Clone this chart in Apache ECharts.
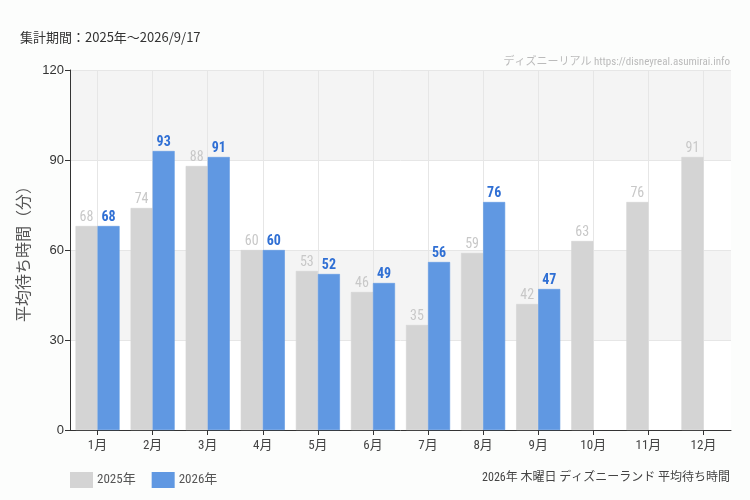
<!DOCTYPE html>
<html><head><meta charset="utf-8">
<script src="https://cdn.jsdelivr.net/npm/echarts@6/dist/echarts.min.js"></script>
<style>html,body{margin:0;padding:0;background:#fcfdfc;}#c{width:750px;height:500px;}</style>
</head><body><div id="c"></div>
<script>
const categories = ['1月','2月','3月','4月','5月','6月','7月','8月','9月','10月','11月','12月'];
const series2025 = [68,74,88,60,53,46,35,59,42,63,76,91];
const series2026 = [68,93,91,60,52,49,56,76,47,null,null,null];
const yTicks = {min:0, max:120, interval:30};
const seriesNames = ['2025年','2026年'];

const jp = '"Noto Sans CJK JP","Noto Sans",sans-serif';
const narrow = '"Roboto Condensed","DejaVu Sans Condensed","Liberation Sans Narrow",Roboto,"Noto Sans CJK JP",sans-serif';
const gray = '#d4d4d4', blue = '#6098e2';
const chart = echarts.init(document.getElementById('c'), null, {renderer:'canvas'});
chart.setOption({
  backgroundColor:'#fcfdfc',
  animation:false,
  title:[
    {text:'集計期間：2025年～2026/9/17', left:15, top:26, textStyle:{fontSize:13, fontWeight:'normal', color:'#333', fontFamily:jp}},
    {text:'ディズニーリアル https://disneyreal.asumirai.info', right:15, top:52, textStyle:{fontSize:11, fontWeight:'normal', color:'#bbbbbb', fontFamily:narrow}},
    {text:'2026年 木曜日 ディズニーランド 平均待ち時間', right:15, top:467, textStyle:{fontSize:12, fontWeight:'normal', color:'#444', fontFamily:narrow}}
  ],
  legend:{
    left:65, top:467, itemWidth:21, itemHeight:14, itemGap:16, icon:'rect',
    data:seriesNames,
    textStyle:{fontSize:13, color:'#555', fontFamily:narrow}
  },
  grid:{left:70, right:19, top:70, bottom:70, containLabel:false},
  xAxis:{
    type:'category', data:categories,
    axisLine:{lineStyle:{color:'#333'}},
    axisTick:{show:true, alignWithLabel:true, length:5, lineStyle:{color:'#333'}},
    axisLabel:{color:'#444', fontSize:13, margin:9, fontFamily:narrow},
    splitLine:{show:false}
  },
  yAxis:{
    type:'value', min:yTicks.min, max:yTicks.max, interval:yTicks.interval,
    name:'平均待ち時間（分）', nameLocation:'middle', nameGap:34,
    nameTextStyle:{fontSize:16, color:'#555', fontFamily:jp},
    axisLine:{show:true, lineStyle:{color:'#333'}},
    axisTick:{show:true, length:5, lineStyle:{color:'#333'}},
    axisLabel:{color:'#333', fontSize:13, fontWeight:500, margin:6},
    splitLine:{show:true, lineStyle:{color:'#e6e6e6'}},
    splitArea:{show:true, areaStyle:{color:['rgba(255,255,255,1)','#f4f4f4']}}
  },
  series:[
    {type:'line', data:[], z:1, silent:true,
     markLine:{silent:true, z:1, symbol:['none','none'], label:{show:false},
       lineStyle:{color:'#e6e6e6', type:'solid', width:1},
       data:categories.map(c=>({xAxis:c}))}},
    {name:seriesNames[0], type:'bar', data:series2025, z:10, barGap:'0%', barCategoryGap:'20%',
     itemStyle:{color:gray, borderColor:gray, borderWidth:0.6},
     label:{show:true, position:'top', distance:2, color:'#c8c8c8', fontSize:14, fontFamily:narrow}},
    {name:seriesNames[1], type:'bar', data:series2026, z:10, barGap:'0%', barCategoryGap:'20%',
     itemStyle:{color:blue, borderColor:blue, borderWidth:0.6},
     label:{show:true, position:'top', distance:2, color:'#2f6fd4', fontSize:14, fontWeight:'bold', fontFamily:narrow}}
  ]
});
</script></body></html>
